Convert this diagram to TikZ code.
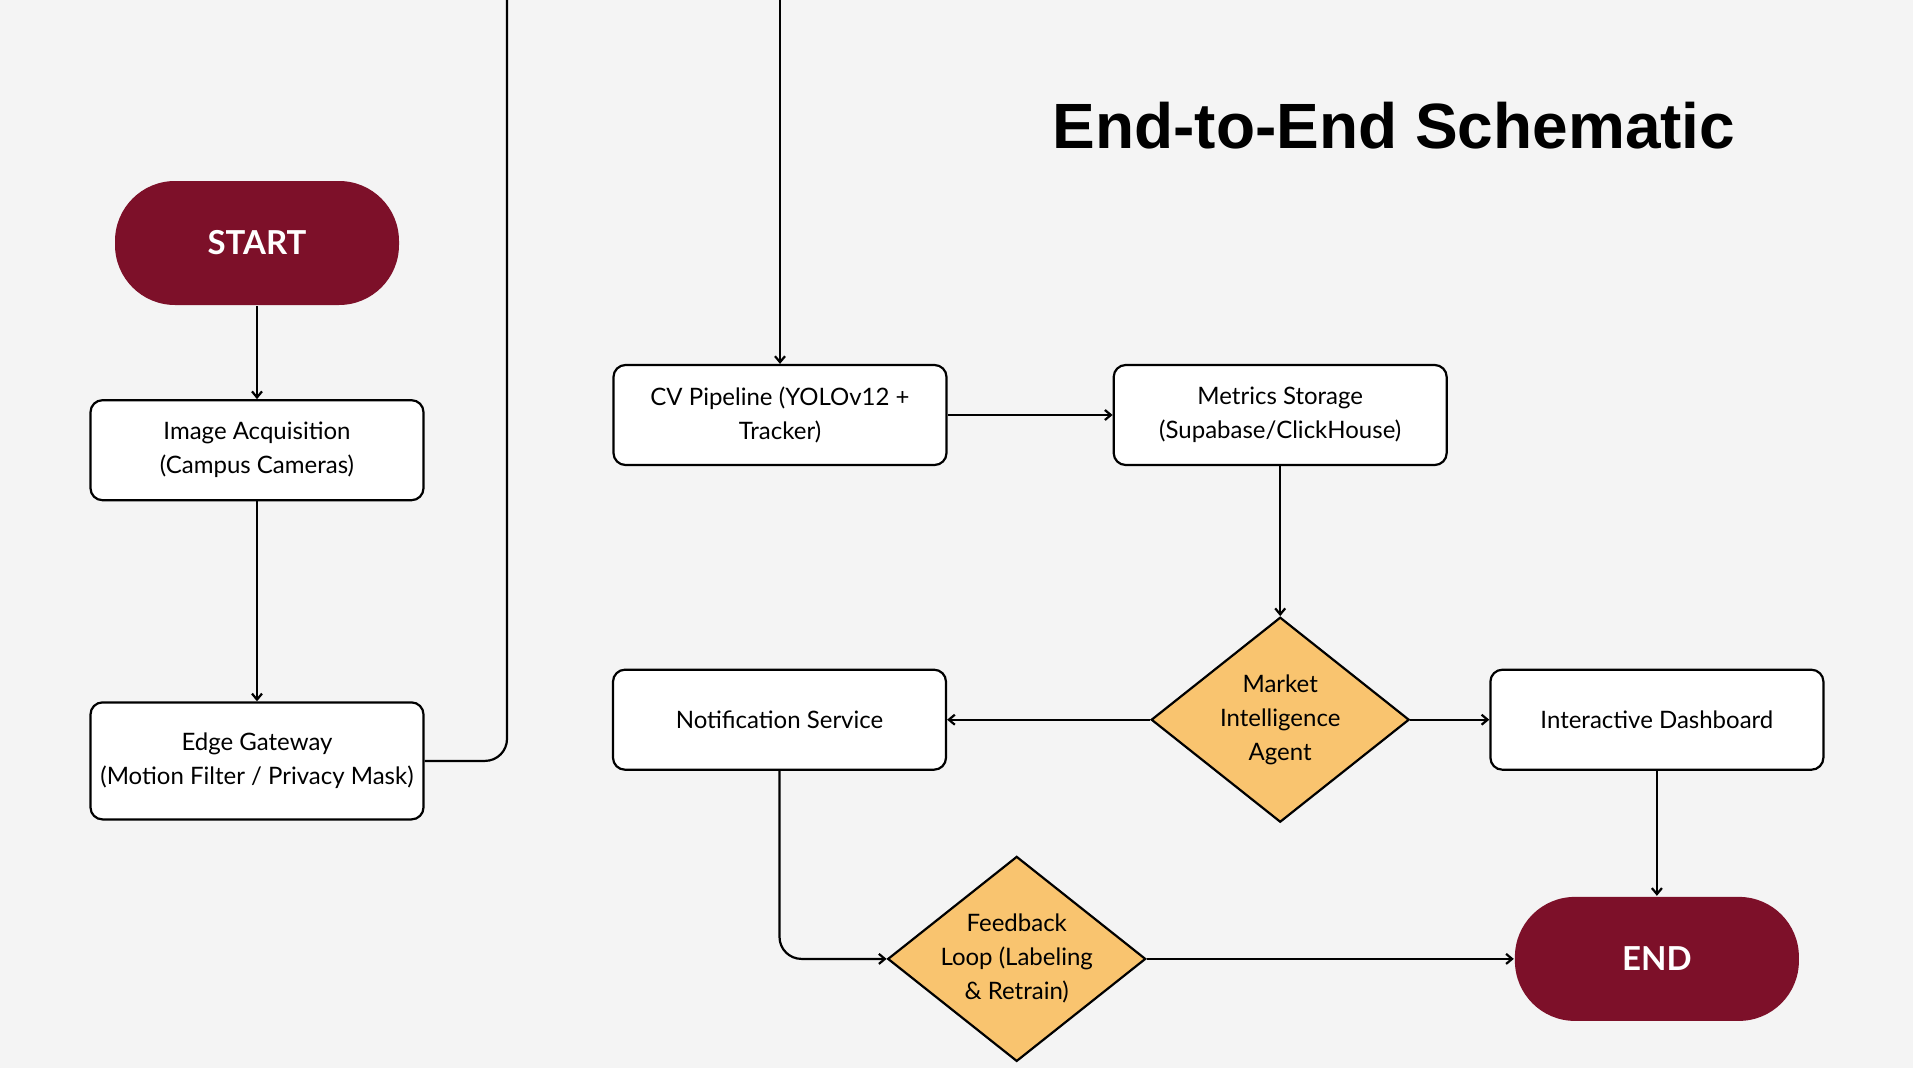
\documentclass[tikz,border=0pt]{standalone}
\usepackage{fontspec}
\setmainfont{Lato}
\newfontfamily\titlefont{Liberation Sans}
\usetikzlibrary{positioning,arrows.meta,shapes.geometric}

\definecolor{bgpage}{HTML}{F4F4F4}
\definecolor{maroon}{HTML}{7D1029}
\definecolor{amber}{HTML}{F9C46F}

\begin{document}
\begin{tikzpicture}
    [x=1pt,y=-1pt,
     >={Straight Barb[length=6pt,width=10pt]},
     every path/.style={line width=2.2pt},
     proc/.style={rectangle,rounded corners=12pt,draw=black,fill=white,line width=2.2pt,
       minimum width=333pt,minimum height=100pt,align=center,
       font=\fontsize{24}{34}\selectfont},
     term/.style={rectangle,rounded corners=60pt,fill=maroon,text=white,
       minimum width=284pt,minimum height=124pt,font=\fontsize{33}{36}\selectfont\bfseries},
     decide/.style={diamond,draw=black,fill=amber,line width=2.2pt,inner sep=0pt,
       minimum width=258pt,minimum height=205pt},
     decidetext/.style={align=center,font=\fontsize{24}{34}\selectfont}]
    \fill[bgpage] (0,0) rectangle (1913,1068);
    \useasboundingbox (0,0) rectangle (1913,1068);

    \node[font=\titlefont\bfseries\fontsize{64}{68}\selectfont] (title) at (1394,126) {End-to-End Schematic};

    % left column
    \node[term] (start) at (257,243) {START};
    \node[proc] (acq) [below=93pt of start] {Image Acquisition\\(Campus Cameras)};
    \node[proc,minimum height=117pt] (gateway) [below=200pt of acq] {Edge Gateway\\(Motion Filter / Privacy Mask)};
    \coordinate (upleft) at (507,0);
    \coordinate (downright) at (780,0);

    % right part
    \node[proc] (cvpipe) at (780,415) {CV Pipeline (YOLOv12 +\\Tracker)};
    \node[proc] (metrics) [right=165pt of cvpipe] {Metrics Storage\\(Supabase/ClickHouse)};
    \node[decide,label={[decidetext]center:Market\\Intelligence\\Agent}] (agent) [below=150pt of metrics] {};
    \node[proc] (notify) [left=203pt of agent] {Notification Service};
    \node[proc] (dashboard) [right=79pt of agent] {Interactive Dashboard};
    \node[term] (finish) [below=125pt of dashboard] {END};
    \node[decide,label={[decidetext]center:Feedback\\Loop (Labeling\\\& Retrain)}] (feedback) [left=367pt of finish] {};

    \draw[->] (start) -- (acq);
    \draw[->] (acq) -- (gateway);
    \draw[rounded corners=22pt] (gateway.east) -| (upleft);
    \draw[->] (downright) -- (cvpipe);
    \draw[->] (cvpipe) -- (metrics);
    \draw[->] (metrics) -- (agent);
    \draw[->] (agent) -- (notify);
    \draw[->] (agent) -- (dashboard);
    \draw[->] (dashboard) -- (finish);
    \draw[->,rounded corners=22pt] (notify.south) |- (feedback.west);
    \draw[->] (feedback) -- (finish);
\end{tikzpicture}
\end{document}
